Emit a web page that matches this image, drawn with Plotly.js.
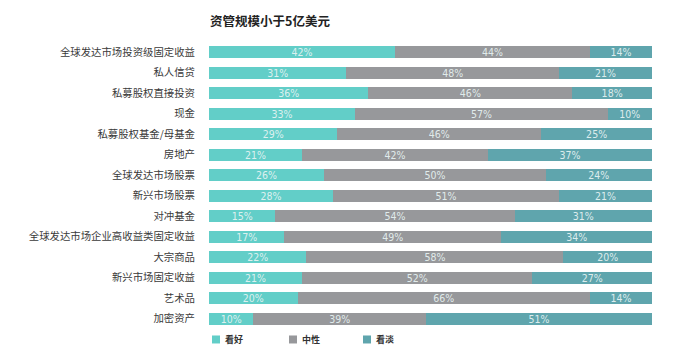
<!DOCTYPE html>
<html><head><meta charset="utf-8">
<script src="https://cdn.plot.ly/plotly-3.0.1.min.js"></script>
<style>html,body{margin:0;padding:0;background:#fff}#c{width:675px;height:355px}</style>
</head><body><div id="c"></div>
<script>
const categories = ["全球发达市场投资级固定收益","私人信贷","私募股权直接投资","现金","私募股权基金/母基金","房地产","全球发达市场股票","新兴市场股票","对冲基金","全球发达市场企业高收益类固定收益","大宗商品","新兴市场固定收益","艺术品","加密资产"];
const bullish = [42,31,36,33,29,21,26,28,15,17,22,21,20,10];
const neutral = [44,48,46,57,46,42,50,51,54,49,58,52,66,39];
const bearish = [14,21,18,10,25,37,24,21,31,34,20,27,14,51];
const seriesNames = ["看好","中性","看淡"];
const colors = ["#62CEC8","#97989B","#5FA5AD"];
const vals = [bullish, neutral, bearish];
const traces = vals.map((v,i)=>({
  type:'bar', orientation:'h', name:seriesNames[i], x:v, y:categories,
  marker:{color:colors[i]},
  text:v.map(n=>n+'%'), textposition:'inside', insidetextanchor:'middle', constraintext:'none',
  textfont:{family:'"Liberation Sans Narrow","DejaVu Sans Condensed",sans-serif', size:10.5, color:'rgba(232,244,244,0.92)'},
  hoverinfo:'none', showlegend:false
}));
// custom legend (paper coordinates)
const W=675,H=355,L=209,R=23,T=42,B=25.5;
const pw=W-L-R, ph=H-T-B;
const legX=[212,289,363];
const legY=340;
const shapes=[], annotations=[];
seriesNames.forEach((n,i)=>{
  const x0=(legX[i]-L)/pw, x1=(legX[i]+8-L)/pw;
  const y0=(H-B-(legY+4))/ph, y1=(H-B-(legY-4))/ph;
  shapes.push({type:'rect',xref:'paper',yref:'paper',x0:x0,x1:x1,y0:y0,y1:y1,fillcolor:colors[i],line:{width:0}});
  annotations.push({xref:'paper',yref:'paper',x:(legX[i]+11-L)/pw,y:(H-B-legY)/ph,xanchor:'left',yanchor:'middle',showarrow:false,text:'<b>'+n+'</b>',font:{size:9,color:'#333'}});
});
const layout = {
  width:W, height:H, barmode:'stack', bargap:0.42,
  margin:{l:L,r:R,t:T,b:B},
  paper_bgcolor:'#fff', plot_bgcolor:'#fff',
  font:{family:'"Noto Sans CJK SC",sans-serif', color:'#333'},
  title:{text:'<b>资管规模小于5亿美元</b>', x:210/675, xanchor:'left', y:1-22/355, yanchor:'middle', font:{size:12.5,color:'#222'}},
  xaxis:{range:[0,100], visible:false, fixedrange:true},
  yaxis:{autorange:'reversed', showgrid:false, zeroline:false, showline:false, ticks:'', ticklabelstandoff:13, tickfont:{size:10.4,color:'#3a3a3a'}},
  showlegend:false, shapes:shapes, annotations:annotations
};
Plotly.newPlot('c', traces, layout, {staticPlot:true});
</script></body></html>
